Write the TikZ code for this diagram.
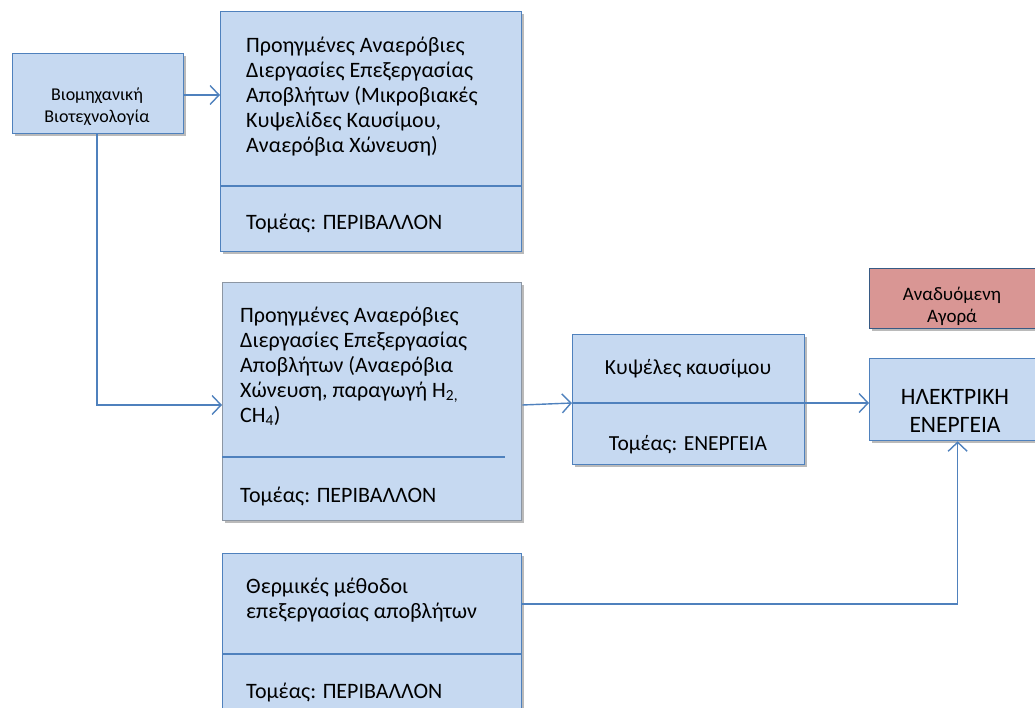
\documentclass[tikz,border=0pt]{standalone}
\usepackage{fontspec}
\setmainfont{Carlito}
\usetikzlibrary{arrows.meta,shadows}
\definecolor{boxfill}{HTML}{C6D9F1}
\definecolor{boxline}{HTML}{4F81BD}
\definecolor{greyline}{HTML}{8C96A3}
\definecolor{pinkfill}{HTML}{D99694}
\tikzset{
  box/.style={draw=boxline, line width=1.3pt, fill=boxfill, anchor=north west, inner sep=0pt,
    drop shadow={shadow xshift=2.5pt, shadow yshift=-2.5pt, opacity=0.45, fill=black!60}},
  txt/.style={font=\fontsize{22}{25}\selectfont, align=left, inner sep=0pt, text=black},
  ctxt/.style={font=\fontsize{21.5}{25}\selectfont, align=center, inner sep=0pt, text=black},
  stxt/.style={font=\fontsize{18}{22}\selectfont, align=center, inner sep=0pt, text=black},
  mtxt/.style={font=\fontsize{19}{22}\selectfont, align=center, inner sep=0pt, text=black},
  btxt/.style={font=\fontsize{23.5}{28}\selectfont, align=center, inner sep=0pt, text=black},
  divline/.style={draw=boxline, line width=1.3pt},
  conn/.style={draw=boxline, line width=1.4pt},
  arr/.style={conn, -{Straight Barb[length=9pt, width=19pt, line width=1.4pt]}}
}
\begin{document}
\begin{tikzpicture}[x=1pt,y=-1pt]
\useasboundingbox (0,0) rectangle (1035,708);
% boxes
\node[box, minimum width=171pt, minimum height=80pt] (bio) at (12,53) {};
\node[box, minimum width=301pt, minimum height=240pt] (b1) at (220,11) {};
\node[box, draw=greyline, minimum width=299pt, minimum height=238pt] (b2) at (222,282) {};
\node[box, minimum width=232pt, minimum height=130pt] (b3) at (572,334) {};
\node[box, minimum width=176pt, minimum height=82pt] (b4) at (869,358) {};
\node[box, draw=boxline!70!black, fill=pinkfill, minimum width=176pt, minimum height=60pt] (mk) at (869,268) {};
\node[box, minimum width=299pt, minimum height=180pt] (b5) at (222,553) {};
% dividers
\draw[divline] (b1.west |- 0,186) coordinate (d1a) -- (b1.east |- 0,186) coordinate (d1b);
\draw[divline] (b2.west |- 0,457) coordinate (d2a) -- (505,457) coordinate (d2b);
\draw[divline] (b3.west |- 0,403) coordinate (d3a) -- (b3.east |- 0,403) coordinate (d3b);
\draw[divline] (b5.west |- 0,654) coordinate (d5a) -- (b5.east |- 0,654) coordinate (d5b);
% texts
\node[stxt] (tbio) at (97,107) {Βιομηχανική\\Βιοτεχνολογία};
\node[txt, anchor=north west] (t1) at (246,37) {Προηγμένες Αναερόβιες\\Διεργασίες Επεξεργασίας\\Αποβλήτων (Μικροβιακές\\Κυψελίδες Καυσίμου,\\Αναερόβια Χώνευση)};
\node[txt, anchor=base west] (s1) at (246,230) {Τομέας: ΠΕΡΙΒΑΛΛΟΝ};
\node[txt, anchor=north west] (t2) at (240,307) {Προηγμένες Αναερόβιες\\Διεργασίες Επεξεργασίας\\Αποβλήτων (Αναερόβια\\Χώνευση, παραγωγή Η\textsubscript{2,}\\CH\textsubscript{4})};
\node[txt, anchor=base west] (s2) at (240,502) {Τομέας: ΠΕΡΙΒΑΛΛΟΝ};
\node[ctxt, anchor=base] (t3) at (688,374) {Κυψέλες καυσίμου};
\node[ctxt, anchor=base] (s3) at (688,450) {Τομέας: ΕΝΕΡΓΕΙΑ};
\node[btxt] (t4) at (955,411) {ΗΛΕΚΤΡΙΚΗ\\ΕΝΕΡΓΕΙΑ};
\node[mtxt] (tmk) at (952,306) {Αναδυόμενη\\Αγορά};
\node[txt, anchor=north west] (t5) at (246,578) {Θερμικές μέθοδοι\\επεξεργασίας αποβλήτων};
\node[txt, anchor=base west] (s5) at (246,698) {Τομέας: ΠΕΡΙΒΑΛΛΟΝ};
% connectors
\coordinate (c2) at (0,405);
\coordinate (c5) at (0,604);
\draw[arr] (bio.east |- 0,95) -- (b1.west |- 0,95);
\draw[arr] (bio.south -| 97,0) |- (b2.west |- c2);
\draw[arr] (b2.east |- c2) -- (b3.west |- d3a);
\draw[arr] (b3.east |- d3a) -- (b4.west |- d3a);
\draw[arr] (b5.east |- c5) -| (b4.south);
\end{tikzpicture}
\end{document}
